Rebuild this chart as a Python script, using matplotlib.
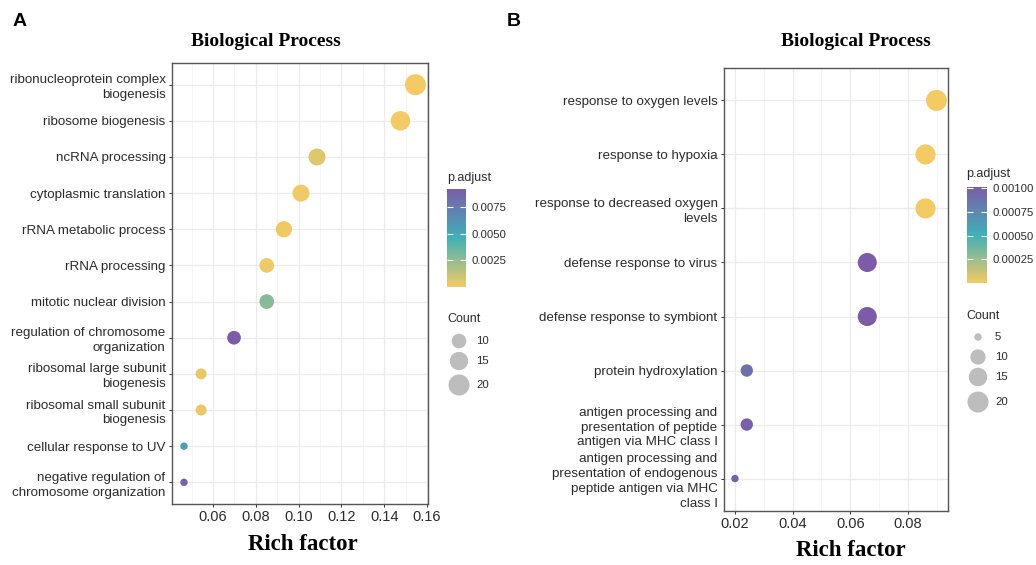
import matplotlib
matplotlib.use("Agg")
import matplotlib.pyplot as plt
import numpy as np
from matplotlib.colors import LinearSegmentedColormap, Normalize
from matplotlib.cm import ScalarMappable
from matplotlib.ticker import MultipleLocator, FixedLocator

W, H, DPI = 1036, 565, 100

# ---------------- data ----------------
terms_A = ["ribonucleoprotein complex\nbiogenesis", "ribosome biogenesis", "ncRNA processing",
           "cytoplasmic translation", "rRNA metabolic process", "rRNA processing",
           "mitotic nuclear division", "regulation of chromosome\norganization",
           "ribosomal large subunit\nbiogenesis", "ribosomal small subunit\nbiogenesis",
           "cellular response to UV", "negative regulation of\nchromosome organization"]
rich_A = [0.1546, 0.1476, 0.1086, 0.1011, 0.0931, 0.0851, 0.0851, 0.0698, 0.0544, 0.0544, 0.0464, 0.0464]
count_A = [20, 17, 13, 13, 12, 10, 10, 9, 7, 7, 6, 6]
padj_A = [1e-6, 2e-6, 5.5e-4, 1e-4, 2e-4, 2e-4, 2.8e-3, 9.2e-3, 3e-4, 3e-4, 5.6e-3, 9.0e-3]
xticks_A = [0.06, 0.08, 0.10, 0.12, 0.14, 0.16]
cbar_ticks_A = [0.0025, 0.0050, 0.0075]
legend_counts_A = [10, 15, 20]

terms_B = ["response to oxygen levels", "response to hypoxia", "response to decreased oxygen\nlevels",
           "defense response to virus", "defense response to symbiont", "protein hydroxylation",
           "antigen processing and\npresentation of peptide\nantigen via MHC class I",
           "antigen processing and\npresentation of endogenous\npeptide antigen via MHC\nclass I"]
rich_B = [0.0899, 0.0861, 0.0861, 0.0659, 0.0659, 0.0241, 0.0241, 0.0200]
count_B = [20, 18, 18, 16, 16, 7, 7, 5]
padj_B = [1e-6, 2e-6, 2e-6, 1.01e-3, 1.01e-3, 8.9e-4, 9.8e-4, 9.9e-4]
xticks_B = [0.02, 0.04, 0.06, 0.08]
cbar_ticks_B = [0.00025, 0.00050, 0.00075, 0.00100]
legend_counts_B = [5, 10, 15, 20]

# ---------------- style ----------------
SANS = ["Liberation Sans", "DejaVu Sans"]
SERIF = ["Liberation Serif", "DejaVu Serif"]
plt.rcParams["font.family"] = SANS
TXT = "#2b2b2b"
cmap = LinearSegmentedColormap.from_list("padj", ["#F4CA64", "#3FB0B8", "#7C5CA8"])

fig = plt.figure(figsize=(W / DPI, H / DPI), dpi=DPI)
fig.patch.set_facecolor("white")


def box(x0, y0, x1, y1):
    return [x0 / W, 1 - y1 / H, (x1 - x0) / W, (y1 - y0) / H]


def pt(px):
    return px * 72.0 / DPI


def diam(c, cmin, cmax, dmin=7.4, dmax=21.0):
    c = np.asarray(c, dtype=float)
    return dmin + (dmax - dmin) * np.sqrt((c - cmin) / (cmax - cmin))


def panel(axbox, terms, rich, count, padj, xlim, xticks, xmajor, tickfmt):
    ax = fig.add_axes(box(*axbox))
    n = len(terms)
    y = np.arange(n)
    cmin, cmax = min(count), max(count)
    norm = Normalize(vmin=min(padj), vmax=max(padj))
    d = diam(count, cmin, cmax)
    ax.scatter(rich, y, s=pt(d) ** 2, c=padj, cmap=cmap, norm=norm, linewidths=0, zorder=3)
    ax.set_xlim(*xlim)
    ax.set_ylim(n - 1 + 0.6, -0.6)
    ax.set_yticks(y)
    ax.set_yticklabels(terms, fontsize=9.6, color=TXT, linespacing=1.32)
    ax.xaxis.set_major_locator(FixedLocator(xticks))
    ax.xaxis.set_minor_locator(MultipleLocator(xmajor / 2))
    ax.set_xticklabels([tickfmt.format(v) for v in xticks], fontsize=10.5, color=TXT)
    ax.grid(True, which="major", color="#EBEBEB", linewidth=0.9)
    ax.grid(True, which="minor", axis="x", color="#F2F2F2", linewidth=0.5)
    ax.set_axisbelow(True)
    for s in ax.spines.values():
        s.set_color("#555555")
        s.set_linewidth(1.0)
    ax.tick_params(which="major", length=pt(3), width=0.7, color="#333333", pad=2.5)
    ax.tick_params(which="minor", length=0)
    return ax, norm, cmin, cmax


def legends(cb_box, cb_ticks, cb_fmt, title_xy, count_title_xy, circ_x, circ_ys, lab_x,
            leg_counts, norm, cmin, cmax):
    fig.text(title_xy[0] / W, 1 - title_xy[1] / H, "p.adjust", fontsize=9, color=TXT,
             ha="left", va="center")
    cax = fig.add_axes(box(*cb_box))
    cb = fig.colorbar(ScalarMappable(norm=norm, cmap=cmap), cax=cax)
    cb.outline.set_visible(False)
    cb.set_ticks(cb_ticks)
    cb.set_ticklabels([cb_fmt.format(v) for v in cb_ticks])
    cax.tick_params(direction="in", length=4, width=0.8, color="white", left=True, right=True,
                    labelleft=False, labelright=True, labelsize=8.2, labelcolor=TXT, pad=4)
    fig.text(count_title_xy[0] / W, 1 - count_title_xy[1] / H, "Count", fontsize=9, color=TXT,
             ha="left", va="center")
    lax = fig.add_axes([0, 0, 1, 1], facecolor="none")
    lax.set_xlim(0, W)
    lax.set_ylim(H, 0)
    lax.axis("off")
    d = diam(leg_counts, cmin, cmax)
    lax.scatter([circ_x] * len(leg_counts), circ_ys, s=pt(d) ** 2, color="#BDBDBD", linewidths=0)
    for cval, yy in zip(leg_counts, circ_ys):
        lax.text(lab_x, yy, str(cval), fontsize=8.2, color=TXT, ha="left", va="center")


# Panel A
axA, normA, cminA, cmaxA = panel((172, 63, 428, 504), terms_A, rich_A, count_A, padj_A,
                                 (0.0408, 0.1605), xticks_A, 0.02, "{:.2f}")
legends((447, 189, 466, 287), cbar_ticks_A, "{:.4f}", (447, 178), (447, 319), 459,
        [341, 361, 385], 476, legend_counts_A, normA, cminA, cmaxA)

# Panel B
axB, normB, cminB, cmaxB = panel((724, 68, 948, 511), terms_B, rich_B, count_B, padj_B,
                                 (0.0162, 0.0939), xticks_B, 0.02, "{:.2f}")
legends((967, 187, 987, 283), cbar_ticks_B, "{:.5f}", (966, 174), (966, 316), 978,
        [337, 357, 377, 402], 995, legend_counts_B, normB, cminB, cmaxB)

# Titles and axis labels
fig.text(266 / W, 1 - 42 / H, "Biological Process", family=SERIF, weight="bold", fontsize=14,
         ha="center", va="center", color="black")
fig.text(856 / W, 1 - 42 / H, "Biological Process", family=SERIF, weight="bold", fontsize=14,
         ha="center", va="center", color="black")
fig.text(303 / W, 1 - 545 / H, "Rich factor", family=SERIF, weight="bold", fontsize=16.5,
         ha="center", va="center", color="black")
fig.text(851 / W, 1 - 551 / H, "Rich factor", family=SERIF, weight="bold", fontsize=16.5,
         ha="center", va="center", color="black")
fig.text(20 / W, 1 - 21 / H, "A", weight="bold", fontsize=14, ha="center", va="center", color="black")
fig.text(514 / W, 1 - 21 / H, "B", weight="bold", fontsize=14, ha="center", va="center", color="black")

fig.savefig("out.png", dpi=DPI, facecolor="white")
